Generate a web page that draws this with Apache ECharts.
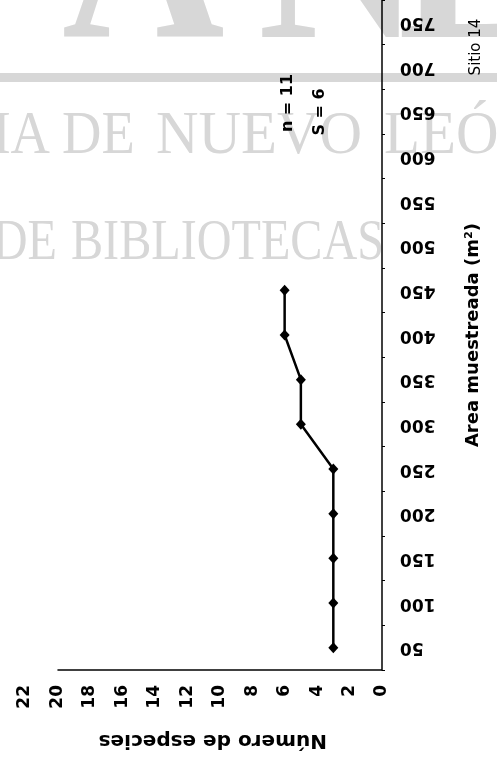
<!DOCTYPE html>
<html><head><meta charset="utf-8">
<script src="https://cdn.jsdelivr.net/npm/echarts@6/dist/echarts.min.js"></script>
<style>html,body{margin:0;padding:0;background:#fff}#c{width:497px;height:757px}</style>
</head><body><div id="c"></div>
<script>
// ---- data ----
const areaCategories = ['50','100','150','200','250','300','350','400','450','500','550','600','650','700','750'];
const sampledArea = ['50','100','150','200','250','300','350','400','450'];
const speciesCount = [3, 3, 3, 3, 3, 5, 5, 6, 6];
const speciesMin = 0, speciesMax = 22, speciesInterval = 2, speciesLineEnd = 20;
const xTitle = 'Número de especies';
const yTitle = 'Area muestreada (m²)';
const noteLines = ['n = 11', 'S = 6'];
const siteLabel = 'Sitio 14';
const logoLetters = ['U', 'A', 'N', 'L'];
const watermarkRow1 = ['AUTÓNOMA', 'DE', 'NUEVO', 'LEÓN'];
const watermarkRow2 = ['DIRECCIÓN GENERAL DE', 'BIBLIOTECAS'];

const W = 497, H = 757;
const gridBottom = 87;
const FONT = 'DejaVu Sans';
const chart = echarts.init(document.getElementById('c'), null, {renderer: 'canvas'});

const option = {
  backgroundColor: '#fff',
  animation: false,
  grid: {left: 25, right: 115, top: 0, bottom: gridBottom, containLabel: false},
  xAxis: {
    type: 'value', min: speciesMin, max: speciesMax, interval: speciesInterval, inverse: true,
    position: 'bottom',
    axisLine: {show: false},
    axisTick: {show: false},
    splitLine: {show: false},
    axisLabel: {rotate: 90, margin: 15, fontFamily: FONT, fontWeight: 'bold', fontSize: 17, color: '#000'}
  },
  yAxis: {
    type: 'category', data: areaCategories, position: 'right', boundaryGap: true,
    axisLine: {show: true, lineStyle: {color: '#000', width: 1.5}},
    axisTick: {show: true, length: 3, lineStyle: {color: '#000', width: 1}},
    splitLine: {show: false},
    axisLabel: {rotate: 180, margin: 18, fontFamily: FONT, fontWeight: 'bold', fontSize: 17, color: '#000'},
    name: yTitle, nameLocation: 'middle', nameRotate: 90, nameGap: 82,
    nameTextStyle: {fontFamily: FONT, fontWeight: 'bold', fontSize: 18, color: '#000'}
  },
  series: [{
    type: 'line',
    data: sampledArea.map((a, i) => [speciesCount[i], a]),
    symbol: 'diamond', symbolSize: [10, 11],
    lineStyle: {color: '#000', width: 2.5},
    itemStyle: {color: '#000'},
    z: 5
  }]
};
chart.setOption(option);

const xPix = v => chart.convertToPixel({xAxisIndex: 0}, v);
const yBottom = H - gridBottom;
const grey = '#d7d7d7';

const graphics = [];
// baseline-based placement of watermark text (vertical middle offset)
function wm(text, x, baseline, size, scaleX, align, weight) {
  graphics.push({type: 'text', x: x, y: baseline - 0.274 * size, scaleX: scaleX, z: -10, silent: true,
    style: {text: text, font: (weight || 'normal') + ' ' + size + 'px "Liberation Serif"', fill: grey,
            textAlign: align, textVerticalAlign: 'middle'}});
}
// watermark logo (bottoms of large letters)
const logoX = [-146, 62, 258, 398];
logoLetters.forEach((ch, i) => wm(ch, logoX[i], 41, 250, 0.9, 'left', 'bold'));
graphics.push({type: 'rect', z: -10, silent: true, shape: {x: 0, y: 73, width: W, height: 9}, style: {fill: grey}});
// row 1
wm(watermarkRow1[0], 50, 154, 62, 0.88, 'right');
wm(watermarkRow1[1], 62, 154, 62, 0.88, 'left');
wm(watermarkRow1[2], 156, 154, 62, 0.95, 'left');
wm(watermarkRow1[3], 384, 154, 62, 0.95, 'left');
// row 2
wm(watermarkRow2[0], 57, 260, 56, 0.86, 'right');
wm(watermarkRow2[1], 71, 260, 56, 0.86, 'left');

// species axis line (drawn 0..20 as in the reference)
graphics.push({type: 'line', z: 3, shape: {x1: xPix(speciesLineEnd), y1: yBottom, x2: xPix(speciesMin), y2: yBottom},
  style: {stroke: '#000', lineWidth: 1.5}});
// x title (upside down)
graphics.push({type: 'text', x: xPix(speciesLineEnd / 2) - 7, y: 740, rotation: Math.PI, z: 3,
  style: {text: xTitle, font: 'bold 20px "DejaVu Sans"', fill: '#000', textAlign: 'center', textVerticalAlign: 'middle'}});
// annotations
graphics.push({type: 'text', x: 288, y: 103, rotation: Math.PI / 2, z: 3,
  style: {text: noteLines[0], font: 'bold 16px "DejaVu Sans"', fill: '#000', textAlign: 'center', textVerticalAlign: 'middle'}});
graphics.push({type: 'text', x: 320, y: 112, rotation: Math.PI / 2, z: 3,
  style: {text: noteLines[1], font: 'bold 16px "DejaVu Sans"', fill: '#000', textAlign: 'center', textVerticalAlign: 'middle'}});
graphics.push({type: 'text', x: 476, y: 47, rotation: Math.PI / 2, z: 3,
  style: {text: siteLabel, font: '15px "DejaVu Sans"', fill: '#000', textAlign: 'center', textVerticalAlign: 'middle'}});

chart.setOption({graphic: {elements: graphics}});
</script></body></html>
